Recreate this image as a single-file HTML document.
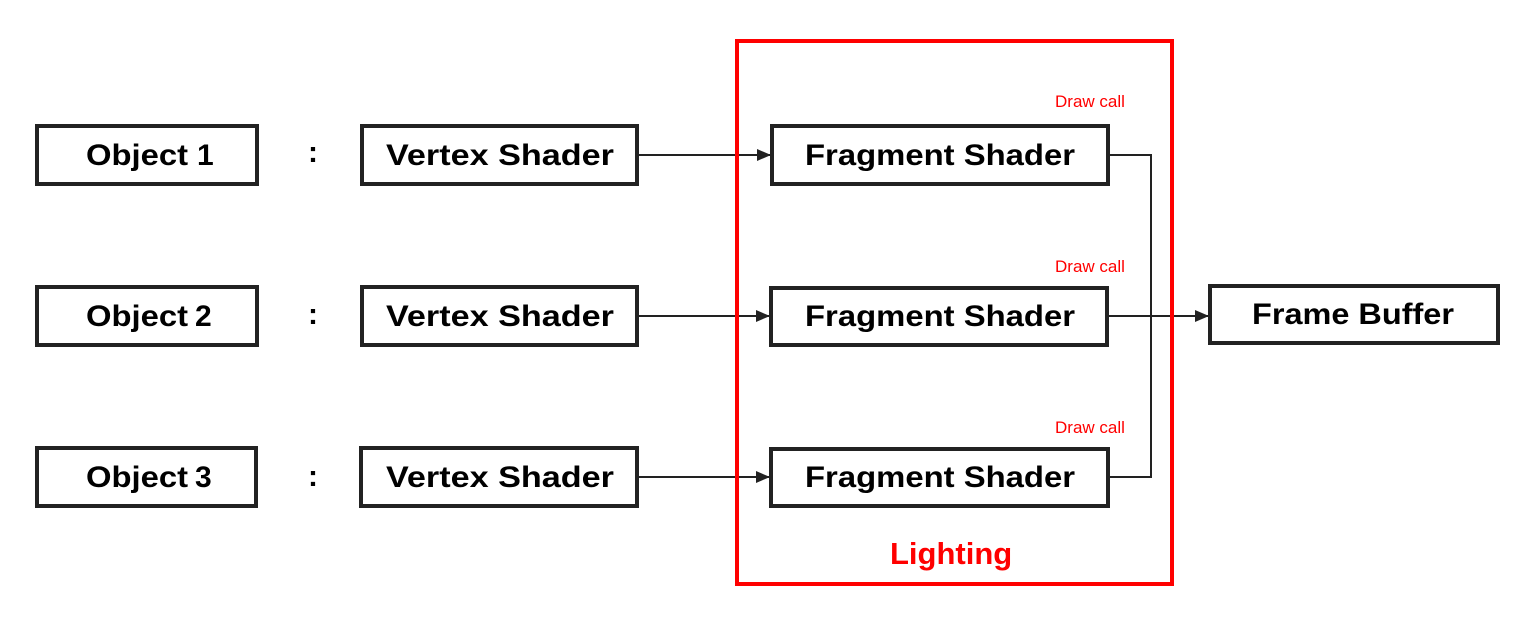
<!DOCTYPE html>
<html><head><meta charset="utf-8"><style>
html,body{margin:0;padding:0;background:#fff;}
svg{display:block;}
.b{font-family:"Liberation Sans",sans-serif;font-weight:bold;font-size:30px;fill:#000;}
.r{font-family:"Liberation Sans",sans-serif;font-size:17px;fill:#ff0000;}
</style></head><body>
<svg width="1531" height="625" viewBox="0 0 1531 625" xmlns="http://www.w3.org/2000/svg">
<defs><marker id="a" markerWidth="14" markerHeight="12" refX="13" refY="6" orient="auto" markerUnits="userSpaceOnUse"><path d="M0,0 L14,6 L0,12 z" fill="#222"/></marker></defs>
<g fill="none" stroke="#222" stroke-width="4">
<rect x="37" y="126" width="220" height="58"/>
<rect x="37" y="287" width="220" height="58"/>
<rect x="37" y="448" width="219" height="58"/>
<rect x="362" y="126" width="275" height="58"/>
<rect x="362" y="287" width="275" height="58"/>
<rect x="361" y="448" width="276" height="58"/>
<rect x="772" y="126" width="336" height="58"/>
<rect x="771" y="288" width="336" height="57"/>
<rect x="771" y="449" width="337" height="57"/>
<rect x="1210" y="286" width="288" height="57"/>
</g>
<g stroke="#222" stroke-width="2" fill="none">
<line x1="639" y1="155" x2="770" y2="155" marker-end="url(#a)"/>
<line x1="639" y1="316" x2="769" y2="316" marker-end="url(#a)"/>
<line x1="639" y1="477" x2="769" y2="477" marker-end="url(#a)"/>
<polyline points="1110,155 1151,155 1151,477 1110,477"/>
<line x1="1109" y1="316" x2="1208" y2="316" marker-end="url(#a)"/>
</g>
<rect x="737" y="41" width="435" height="543" fill="none" stroke="#ff0000" stroke-width="4"/>
<text class="b" x="86" y="165" textLength="102" lengthAdjust="spacingAndGlyphs">Object</text><text class="b" x="197" y="165" font-size="18">1</text>
<text class="b" x="86" y="326" textLength="102" lengthAdjust="spacingAndGlyphs">Object</text><text class="b" x="195" y="326" font-size="18">2</text>
<text class="b" x="86" y="487" textLength="102" lengthAdjust="spacingAndGlyphs">Object</text><text class="b" x="195" y="487" font-size="18">3</text>
<text class="b" x="308" y="162">:</text><text class="b" x="308" y="324">:</text><text class="b" x="308" y="486">:</text>
<text class="b" x="386" y="165" textLength="228" lengthAdjust="spacingAndGlyphs">Vertex Shader</text>
<text class="b" x="386" y="326" textLength="228" lengthAdjust="spacingAndGlyphs">Vertex Shader</text>
<text class="b" x="386" y="487" textLength="228" lengthAdjust="spacingAndGlyphs">Vertex Shader</text>
<text class="b" x="805" y="165" textLength="270" lengthAdjust="spacingAndGlyphs">Fragment Shader</text>
<text class="b" x="805" y="326" textLength="270" lengthAdjust="spacingAndGlyphs">Fragment Shader</text>
<text class="b" x="805" y="487" textLength="270" lengthAdjust="spacingAndGlyphs">Fragment Shader</text>
<text class="b" x="1252" y="324" textLength="202" lengthAdjust="spacingAndGlyphs">Frame Buffer</text>
<text class="r" x="1055" y="107">Draw call</text>
<text class="r" x="1055" y="272">Draw call</text>
<text class="r" x="1055" y="433">Draw call</text>
<text x="890" y="564" font-family="Liberation Sans,sans-serif" font-weight="bold" font-size="31" fill="#ff0000">Lighting</text>
</svg>
</body></html>
